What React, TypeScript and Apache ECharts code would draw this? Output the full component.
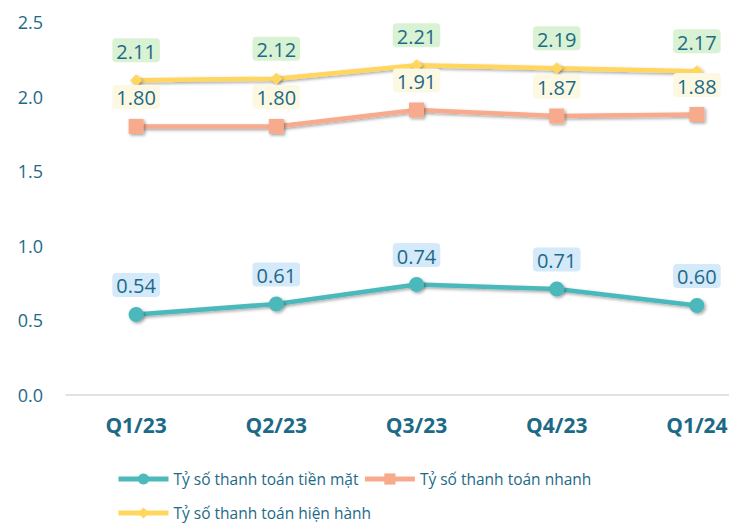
import React, { useEffect, useRef } from "react";
import * as echarts from "echarts";

const categories = ["Q1/23", "Q2/23", "Q3/23", "Q4/23", "Q1/24"];
const cashRatio = [0.54, 0.61, 0.74, 0.71, 0.6];
const quickRatio = [1.8, 1.8, 1.91, 1.87, 1.88];
const currentRatio = [2.11, 2.12, 2.21, 2.19, 2.17];
const seriesNames = [
  "Tỷ số thanh toán tiền mặt",
  "Tỷ số thanh toán nhanh",
  "Tỷ số thanh toán hiện hành",
];

const TEXT = "#1d6a87";
const FONT = "Open Sans";

export default function App() {
  const ref = useRef<HTMLDivElement>(null);
  useEffect(() => {
    if (!ref.current) return;
    const chart = echarts.init(ref.current, undefined, { renderer: "svg" });
    const shadow = {
      shadowColor: "rgba(0,0,0,0.35)",
      shadowBlur: 3,
      shadowOffsetX: 1.5,
      shadowOffsetY: 1.5,
    };
    const mkLabel = (bg: string, dist: number) => ({
      show: true,
      position: "top",
      distance: dist,
      color: TEXT,
      fontSize: 20,
      fontFamily: FONT,
      backgroundColor: bg,
      padding: [3, 4, 1, 4],
      borderRadius: 4,
      formatter: (p: any) => Number(p.value).toFixed(2),
    });
    const legendBase = {
      itemWidth: 50,
      itemHeight: 14,
      itemGap: 4,
      lineStyle: { width: 5 },
      textStyle: { color: TEXT, fontSize: 15.5, fontFamily: FONT },
    };
    chart.setOption({
      animation: false,
      textStyle: { fontFamily: FONT },
      grid: {
        left: 66,
        width: 701,
        top: 22,
        height: 373,
        containLabel: false,
        outerBoundsMode: "none",
      },
      legend: [
        { ...legendBase, data: [seriesNames[0], seriesNames[1]], left: 111, top: 466 },
        { ...legendBase, data: [seriesNames[2]], left: 111, top: 500 },
      ],
      xAxis: {
        type: "category",
        data: categories,
        boundaryGap: true,
        axisLine: { lineStyle: { color: "#d9d9d9", width: 1.5 } },
        axisTick: { show: false },
        axisLabel: {
          color: TEXT,
          fontSize: 21,
          fontWeight: "bold",
          fontFamily: FONT,
          margin: 19,
        },
      },
      yAxis: {
        type: "value",
        min: 0,
        max: 2.5,
        interval: 0.5,
        splitLine: { show: false },
        axisLine: { show: false },
        axisTick: { show: false },
        axisLabel: {
          color: TEXT,
          fontSize: 18,
          fontFamily: FONT,
          margin: 23,
          formatter: (v: number) => v.toFixed(1),
        },
      },
      series: [
        {
          name: seriesNames[0],
          type: "line",
          data: cashRatio,
          z: 4,
          symbol: "circle",
          symbolSize: 15,
          lineStyle: { color: "#4cb9bb", width: 4.5, ...shadow },
          itemStyle: { color: "#4cb9bb", ...shadow },
          label: mkLabel("#d4e9fa", 10),
        },
        {
          name: seriesNames[1],
          type: "line",
          data: quickRatio,
          z: 3,
          symbol: "rect",
          symbolSize: 15,
          lineStyle: { color: "#f7ab8c", width: 4.5, ...shadow },
          itemStyle: { color: "#f7ab8c", ...shadow },
          label: mkLabel("#fdf8e2", 10),
        },
        {
          name: seriesNames[2],
          type: "line",
          data: currentRatio,
          z: 2,
          symbol: "diamond",
          symbolSize: 12,
          lineStyle: { color: "#ffd75e", width: 4.5, ...shadow },
          itemStyle: { color: "#ffd75e", ...shadow },
          label: mkLabel("#d9f2d3", 12),
        },
      ],
    });
    return () => chart.dispose();
  }, []);
  return (
    <div
      ref={ref}
      style={{ position: "fixed", left: 0, top: 0, width: 729, height: 523, background: "#fff" }}
    />
  );
}
